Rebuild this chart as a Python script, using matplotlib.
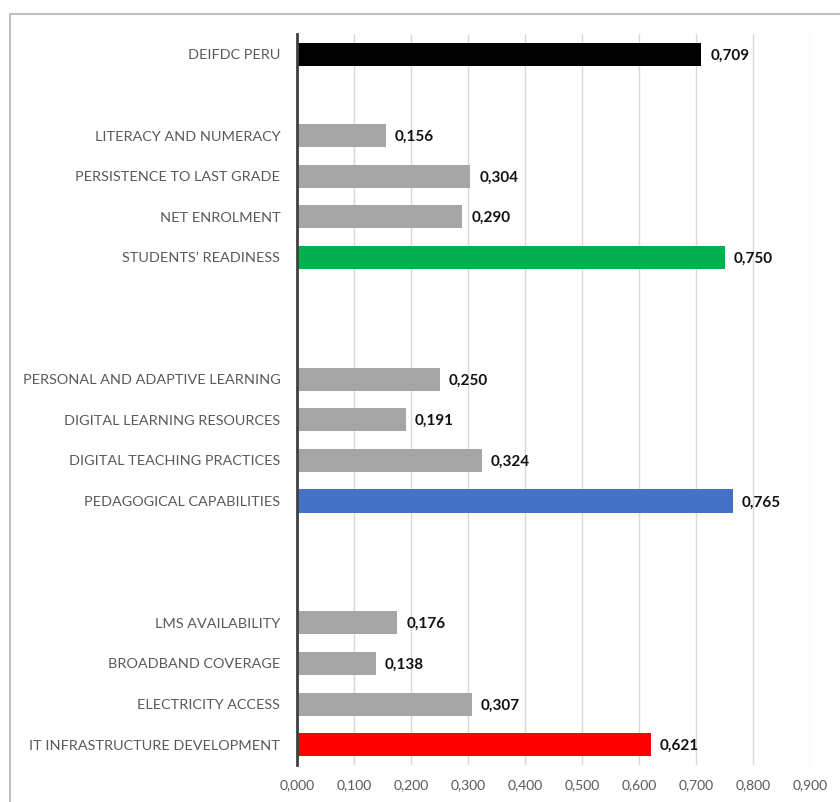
import matplotlib
matplotlib.use("Agg")
import matplotlib.pyplot as plt
from matplotlib.patches import Rectangle

# Rows from top to bottom; empty strings are spacer rows between groups
categories = [
    "DEIFDC PERU",
    "",
    "LITERACY AND NUMERACY",
    "PERSISTENCE TO LAST GRADE",
    "NET ENROLMENT",
    "STUDENTS\u2019 READINESS",
    "",
    "",
    "PERSONAL AND ADAPTIVE LEARNING",
    "DIGITAL LEARNING RESOURCES",
    "DIGITAL TEACHING PRACTICES",
    "PEDAGOGICAL CAPABILITIES",
    "",
    "",
    "LMS AVAILABILITY",
    "BROADBAND COVERAGE",
    "ELECTRICITY ACCESS",
    "IT INFRASTRUCTURE DEVELOPMENT",
]
values = [0.709, None, 0.156, 0.304, 0.290, 0.750, None, None,
          0.250, 0.191, 0.324, 0.765, None, None,
          0.176, 0.138, 0.307, 0.621]
bar_colors = ["#000000", None, "#A5A5A5", "#A5A5A5", "#A5A5A5", "#00B050", None, None,
              "#A5A5A5", "#A5A5A5", "#A5A5A5", "#4472C4", None, None,
              "#A5A5A5", "#A5A5A5", "#A5A5A5", "#FF0000"]
x_ticks = [0.0, 0.1, 0.2, 0.3, 0.4, 0.5, 0.6, 0.7, 0.8, 0.9]

plt.rcParams["font.family"] = ["Lato", "DejaVu Sans"]

W, H = 840, 802
fig = plt.figure(figsize=(W / 100, H / 100), dpi=100)
fig.patch.set_facecolor("white")

# outer chart border (right and bottom edges run off the canvas)
fig.patches.append(Rectangle((10 / W, -0.05), 1.2, 1.05 - 14 / H,
                             transform=fig.transFigure, fill=False,
                             edgecolor="#BFBFBF", linewidth=1.5))

ax = fig.add_axes([297 / W, 1 - 765 / H, (810 - 297) / W, (765 - 34) / H])

n = len(categories)
ypos = [n - 1 - i for i in range(n)]

for y, v, c in zip(ypos, values, bar_colors):
    if v is None:
        continue
    ax.barh(y, v, height=0.57, color=c, zorder=3)
    ax.annotate(f"{v:.3f}".replace(".", ","), xy=(v, y), xytext=(6.5, -1),
                textcoords="offset points", va="center", ha="left",
                fontsize=11, fontweight="bold", color="#111111")

ax.set_xlim(0, 0.9)
ax.set_ylim(-0.5, n - 0.5)
ax.set_xticks(x_ticks)
ax.set_xticklabels([f"{t:.3f}".replace(".", ",") for t in x_ticks],
                   fontsize=10, color="#595959")
ax.set_yticks(ypos)
ax.set_yticklabels(categories, fontsize=10.4, color="#595959")
ax.tick_params(axis="y", length=0, pad=12)
ax.tick_params(axis="x", length=0, pad=10)

ax.grid(axis="x", color="#D9D9D9", linewidth=1, zorder=0)
ax.grid(axis="y", visible=False)
for side in ["top", "right", "bottom"]:
    ax.spines[side].set_visible(False)
ax.spines["left"].set_color("#404040")
ax.spines["left"].set_linewidth(2)
ax.spines["left"].set_zorder(4)

fig.savefig("out.png", dpi=100)
